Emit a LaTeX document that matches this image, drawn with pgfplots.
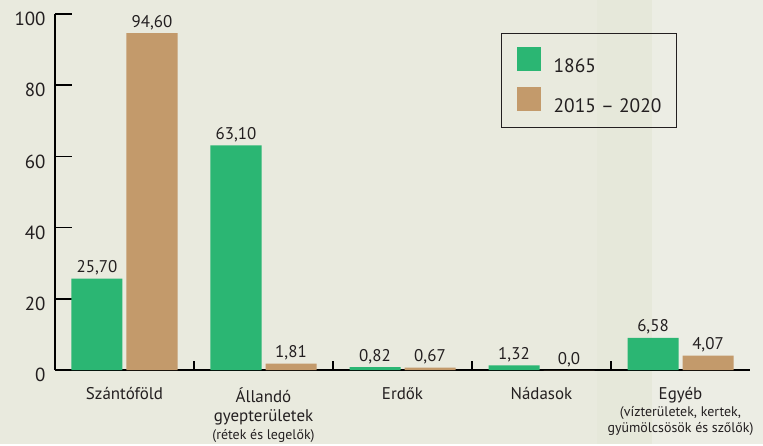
\documentclass[border=0pt]{standalone}
\usepackage{fontspec}
\setmainfont{PT Sans}
\usepackage{pgfplots}
\pgfplotsset{compat=1.18}
\usetikzlibrary{backgrounds}
\definecolor{bg}{HTML}{E9EADE}
\definecolor{bgb}{HTML}{E6E8DA}
\definecolor{bgc}{HTML}{ECEDE4}
\definecolor{gr}{HTML}{2BB673}
\definecolor{br}{HTML}{C39A6B}
\definecolor{tx}{HTML}{231F20}
\pgfplotstableread{
x a la b lb
0 25.70 25,70 94.60 94,60
1 63.10 63,10 1.81 1,81
2 0.82 0,82 0.67 0,67
3 1.32 1,32 0.0 0,0
4 9.0 6,58 4.07 4,07
}\datatab
\begin{document}
\begin{tikzpicture}
\begin{axis}[
  scale only axis, width=695bp, height=356bp,
  xmin=-0.5, xmax=4.5, ymin=0, ymax=100,
  axis lines*=left,
  axis line style={line width=1.4bp, black},
  ybar=4bp, bar width=51bp,
  ytick={0,20,...,100},
  tick align=inside, major tick length=17bp,
  ytick style={line width=1.4bp, black},
  xtick={0,...,4}, x tick style={draw=none},
  xticklabels={Szántóföld,
    {Állandó\\[-3bp]gyepterületek\\[-4bp]{\fontsize{14}{16}\selectfont (rétek és legelők)}},
    Erdők, Nádasok,
    {Egyéb\\[-5bp]{\fontsize{14}{16}\selectfont (vízterületek, kertek,}\\[-6bp]{\fontsize{14}{16}\selectfont gyümölcsösök és szőlők)}}},
  xticklabel style={align=center, font=\fontsize{17}{22}\selectfont, text=tx, anchor=north, yshift=-14bp},
  yticklabel style={font=\fontsize{19}{22}\selectfont, text=tx, xshift=-6bp, yshift=-5bp},
  /pgf/number format/assume math mode=true,
  point meta=explicit symbolic,
  nodes near coords,
  nodes near coords style={font=\fontsize{17}{20}\selectfont, text=tx, anchor=base, yshift=6bp},
  legend style={at={(0.642,0.947)}, anchor=north west, draw=tx, line width=0.8bp, fill=none,
    font=\fontsize{19.5}{22}\selectfont, text=tx, nodes={inner sep=0pt}, column sep=13bp,
    inner xsep=15bp, inner ysep=14bp, row sep=13bp},
  legend cell align=left,
  legend image code/.code={\fill[#1,draw=none] (0bp,-5bp) rectangle (24bp,19bp);},
]
\coordinate (O) at (rel axis cs:0,0);
\addplot[fill=gr, draw=none] table[x=x, y=a, meta=la] {\datatab};
\addplot[fill=br, draw=none] table[x=x, y=b, meta=lb] {\datatab};
\legend{1865, 2015 – 2020}
\foreach \s in {0.5,1.5,2.5,3.5} {
  \edef\tmp{\noexpand\draw[line width=1.4bp, black] (axis cs:\s,0) -- ([yshift=9bp]axis cs:\s,0);}\tmp
}
\end{axis}
\begin{scope}[on background layer]
\fill[bg] (O) ++(-55bp,-74bp) rectangle ++(763bp,444bp);
\fill[bgb] (O) ++(542bp,-74bp) rectangle ++(55bp,444bp);
\fill[bgc] (O) ++(597bp,-74bp) rectangle ++(111bp,444bp);
\end{scope}
\end{tikzpicture}
\end{document}
